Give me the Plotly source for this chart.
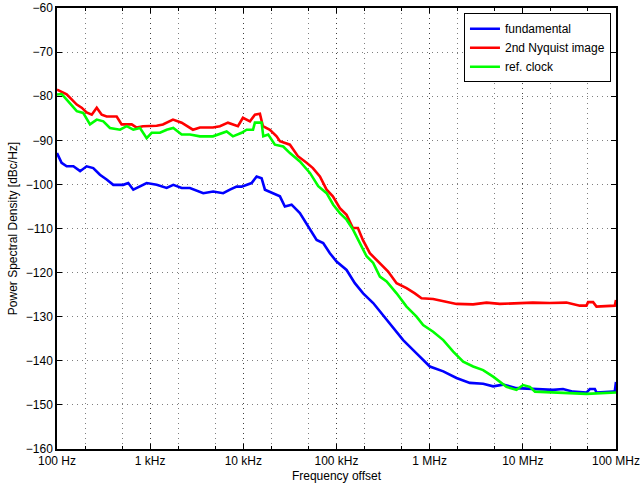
import plotly.graph_objects as go

# ---- data ----
fund_freq = [100, 112, 127, 150, 177, 208, 245, 289, 341, 402, 514, 582, 659, 778, 917,
             1175, 1503, 1770, 2178, 2673, 3715, 4750, 6080, 7180, 8470, 9590, 12270,
             13900, 15710, 17060, 20960, 24710, 27920, 32960, 40460, 51880, 61190, 71980,
             84920, 100200, 128300, 157400, 193200, 247700, 292300, 330400, 374100, 519700,
             722800, 1.005e6, 1.40e6, 1.94e6, 2.70e6, 3.75e6, 4.80e6, 6.15e6, 8.55e6,
             1.29e7, 2.11e7, 2.70e7, 3.46e7, 4.82e7, 5.24e7, 5.93e7, 6.18e7, 9.31e7, 9.7e7, 1e8]
fund_psd = [-92.9, -95.1, -95.9, -95.9, -97.0, -95.9, -96.3, -97.8, -98.9, -100.1, -100.1, -99.7,
            -101.2, -100.5, -99.7, -100.1, -100.8, -100.1, -100.8, -100.8, -102.0, -101.6, -102.0,
            -101.2, -100.5, -100.5, -99.7, -98.2, -98.6, -101.2, -102.0, -102.7, -105.0, -104.6,
            -106.5, -110.3, -112.6, -113.3, -115.6, -117.5, -119.4, -122.4, -124.7, -126.9, -128.8,
            -130.3, -131.5, -135.3, -138.3, -141.3, -142.4, -143.9, -145.0, -145.2, -145.8, -145.4,
            -146.2, -146.4, -146.6, -146.4, -147.0, -147.2, -146.4, -146.4, -147.2, -147.0, -147.0,
            -144.8]

nyq_freq = [100, 127, 163, 184, 208, 236, 267, 302, 341, 437, 494, 634, 716, 837, 1175, 1371,
            1757, 2178, 2878, 3420, 4718, 5610, 6839, 7730, 8750, 9900, 11780, 13310, 15070,
            16230, 19280, 22750, 24710, 31620, 38550, 47750, 55840, 66370, 78340, 91410, 108700,
            128300, 149900, 169800, 191900, 228000, 292300, 356500, 441600, 564900, 693500,
            818500, 1.09e6, 1.52e6, 1.94e6, 2.93e6, 4.08e6, 5.67e6, 8.55e6, 1.28e7, 1.95e7,
            2.94e7, 4.09e7, 4.82e7, 5.02e7, 5.68e7, 6.18e7, 9.31e7, 9.7e7, 1e8]
nyq_psd = [-78.5, -79.6, -81.9, -82.6, -83.7, -84.2, -82.6, -84.2, -84.6, -84.6, -86.4, -86.4,
           -87.1, -86.8, -86.7, -86.4, -85.3, -86.0, -87.6, -87.1, -87.1, -86.8, -86.0, -86.4,
           -86.8, -84.9, -85.7, -84.2, -84.0, -86.8, -87.6, -89.1, -90.2, -91.0, -93.6, -95.1,
           -96.3, -98.2, -101.2, -102.7, -105.4, -106.9, -109.9, -109.9, -112.6, -115.6, -117.8,
           -119.7, -122.4, -123.5, -124.7, -125.8, -126.0, -126.6, -127.1, -127.2, -126.8, -127.1,
           -126.9, -126.8, -126.9, -126.8, -127.5, -127.5, -126.7, -126.7, -127.7, -127.5, -127.5,
           -126.2]

ref_freq = [100, 112, 127, 163, 191, 226, 267, 314, 370, 475, 560, 659, 778, 917, 1038, 1274,
            1503, 1770, 2178, 2673, 3420, 4718, 6620, 7730, 9590, 10850, 12710, 13310, 15710,
            16380, 18500, 21810, 26800, 31620, 40460, 51880, 63680, 78340, 92300, 108700, 128300,
            151000, 178200, 210300, 247700, 292300, 345100, 441600, 564900, 722800, 851500,
            1.09e6, 1.40e6, 1.79e6, 2.29e6, 2.93e6, 3.75e6, 4.80e6, 6.68e6, 8.55e6, 1.007e7,
            1.19e7, 1.35e7, 2.11e7, 3.46e7, 4.82e7, 1e8]
ref_psd = [-79.6, -79.5, -80.8, -83.4, -83.8, -86.4, -85.3, -85.7, -87.2, -87.6, -86.8, -87.6,
           -87.2, -89.5, -88.3, -88.3, -87.6, -87.2, -88.7, -88.7, -89.1, -89.1, -88.0, -89.1,
           -88.3, -87.6, -87.6, -86.0, -86.0, -89.1, -88.7, -91.0, -91.4, -92.9, -94.8, -97.4,
           -100.4, -102.0, -104.6, -106.5, -108.0, -110.3, -113.3, -116.3, -117.8, -120.9, -122.0,
           -124.7, -127.7, -130.0, -131.9, -133.4, -135.3, -137.9, -140.2, -141.3, -142.1, -143.6,
           -145.9, -146.6, -145.5, -145.9, -147.0, -147.2, -147.4, -147.5, -147.2]

x_tickvals = [1e2, 1e3, 1e4, 1e5, 1e6, 1e7, 1e8]
x_ticktext = ["100 Hz", "1 kHz", "10 kHz", "100 kHz", "1 MHz", "10 MHz", "100 MHz"]
y_tickvals = [-160, -150, -140, -130, -120, -110, -100, -90, -80, -70, -60]
y_ticktext = ["\u2212" + str(abs(v)) for v in y_tickvals]

series = [
    ("fundamental", fund_freq, fund_psd, "#0000ff"),
    ("2nd Nyquist image", nyq_freq, nyq_psd, "#ff0000"),
    ("ref. clock", ref_freq, ref_psd, "#00ff00"),
]

fig = go.Figure()
for name, fx, fy, col in series:
    fig.add_trace(go.Scatter(x=fx, y=fy, mode="lines", name=name,
                             line=dict(color=col, width=2.6)))

font = "Liberation Sans, Arial, sans-serif"
gridcol = "rgba(0,0,0,0.5)"
dash = "1px,4px"

fig.update_layout(
    width=640, height=488,
    margin=dict(l=57, r=24, t=8, b=39),
    paper_bgcolor="white", plot_bgcolor="white",
    font=dict(family=font, size=12, color="black"),
    showlegend=True,
    legend=dict(x=0.991, y=0.988, xanchor="right", yanchor="top",
                bgcolor="white", bordercolor="black", borderwidth=1,
                font=dict(size=12), tracegroupgap=0),
)
fig.update_xaxes(type="log", range=[2, 8.0002], tickvals=x_tickvals, ticktext=x_ticktext,
                 ticks="inside", ticklen=5, tickcolor="black",
                 showline=True, linecolor="black", linewidth=1.5, mirror="allticks",
                 zeroline=False, automargin=False,
                 showgrid=True, gridcolor=gridcol, gridwidth=1, griddash=dash,
                 minor=dict(ticks="inside", ticklen=3, tickcolor="black", showgrid=True,
                            gridcolor=gridcol, griddash=dash, gridwidth=1),
                 title=dict(text="Frequency offset", standoff=4, font=dict(size=12)))
fig.update_yaxes(range=[-160, -60], tickvals=y_tickvals, ticktext=y_ticktext,
                 ticks="inside", ticklen=5, tickcolor="black",
                 showline=True, linecolor="black", linewidth=1.5, mirror="allticks",
                 zeroline=False, automargin=False,
                 showgrid=True, gridcolor=gridcol, gridwidth=1, griddash=dash,
                 title=dict(text="Power Spectral Density [dBc/Hz]", standoff=6, font=dict(size=12)))

fig.write_html("out.html", config={"displayModeBar": False},
               post_script="document.body.style.margin='0px';")
